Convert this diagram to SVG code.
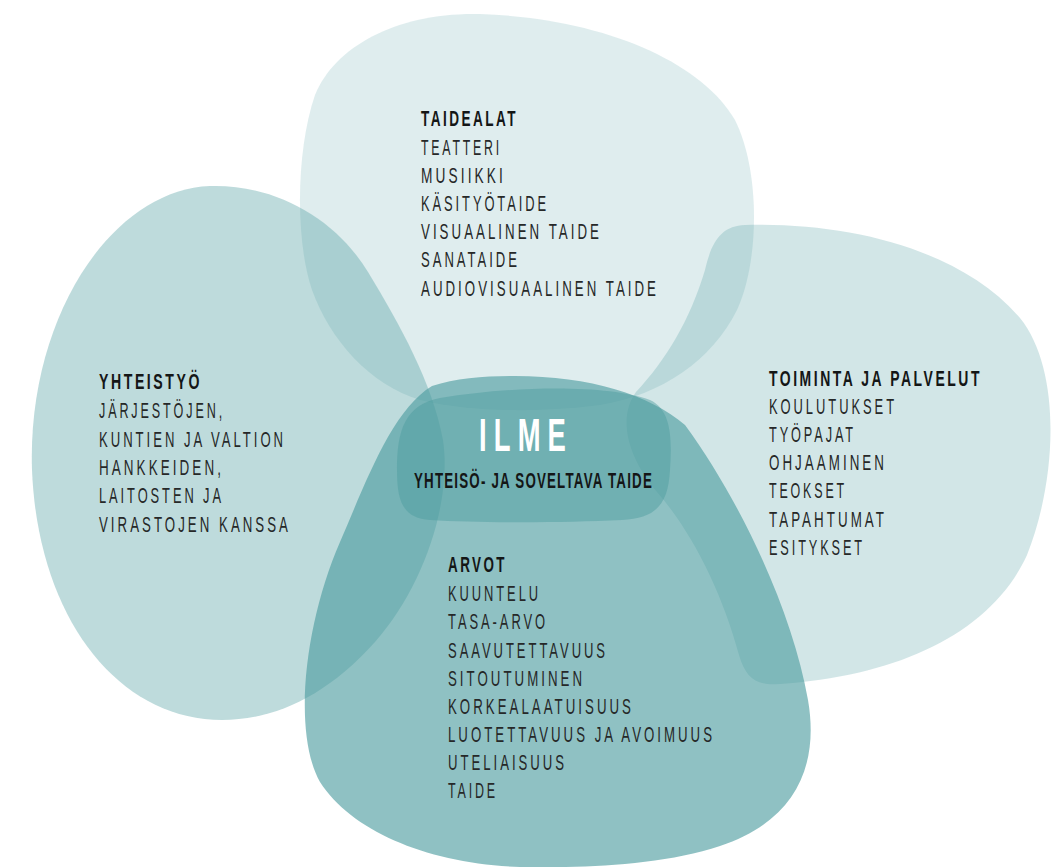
<svg xmlns="http://www.w3.org/2000/svg" width="1052" height="867" viewBox="0 0 1052 867">
<style>
.blob{fill:#4b9b9e}
text{font-family:"Liberation Sans",Arial,sans-serif;font-size:22px;fill:#262828;letter-spacing:5px}
.h{font-weight:700;fill:#141616;letter-spacing:4px}
.big{font-size:46px;font-weight:700;fill:#ffffff;letter-spacing:12px}
.sub{font-weight:700;fill:#141616;font-size:22px;letter-spacing:2px}
</style>
<rect width="1052" height="867" fill="#ffffff"/>
<g id="blob-top">
<path class="blob" fill-opacity="0.18" d="M 480,14 C 600,18 700,60 735,120 C 760,170 760,260 737,310 C 712,360 662,395 600,405 C 540,413 470,412 420,400 C 370,385 330,340 312,290 C 295,240 296,150 315,95 C 335,45 400,12 480,14 Z"/>
</g>
<g id="blob-left">
<path class="blob" fill-opacity="0.36" d="M 210,186 C 275,184 335,218 368,272 C 400,325 432,382 443,440 C 452,500 425,585 375,642 C 325,698 272,720 222,720 C 118,720 38,618 32,470 C 27,320 110,190 210,186 Z"/>
</g>
<g id="blob-right">
<path class="blob" fill-opacity="0.25" d="M 745,225 C 850,222 962,250 1020,318 C 1062,370 1057,480 1027,555 C 992,632 900,676 780,684 C 757,686 746,679 739,655 C 722,592 692,532 657,492 C 630,460 616,420 636,392 C 666,360 690,320 705,270 C 712,240 722,226 745,225 Z"/>
</g>
<g id="blob-bottom">
<path class="blob" fill-opacity="0.62" d="M 515,376 C 590,376 650,395 685,425 C 740,500 792,610 808,700 C 820,770 792,822 720,846 C 660,866 580,868 520,867 C 430,864 352,832 320,782 C 292,732 305,622 340,542 C 366,482 392,410 432,386 C 456,378 486,376 515,376 Z"/>
</g>
<g id="center">
<path class="blob" fill-opacity="0.45" d="M 440,398 C 520,385 610,385 650,400 C 672,410 672,440 670,470 C 668,505 656,518 622,520 C 560,523 480,523 430,520 C 402,518 397,500 397,470 C 397,430 405,405 440,398 Z"/>
<text class="big" x="479" y="451" textLength="94" lengthAdjust="spacingAndGlyphs">ILME</text>
<text class="sub" x="414" y="488" textLength="239" lengthAdjust="spacingAndGlyphs">YHTEISÖ- JA SOVELTAVA TAIDE</text>
</g>
<g id="taidealat">
<text class="h" x="421" y="126" textLength="97" lengthAdjust="spacingAndGlyphs">TAIDEALAT</text>
<text x="421" y="155" textLength="81" lengthAdjust="spacingAndGlyphs">TEATTERI</text>
<text x="421" y="183" textLength="85" lengthAdjust="spacingAndGlyphs">MUSIIKKI</text>
<text x="421" y="211" textLength="128" lengthAdjust="spacingAndGlyphs">KÄSITYÖTAIDE</text>
<text x="421" y="239" textLength="181" lengthAdjust="spacingAndGlyphs">VISUAALINEN TAIDE</text>
<text x="421" y="267" textLength="99" lengthAdjust="spacingAndGlyphs">SANATAIDE</text>
<text x="421" y="296" textLength="238" lengthAdjust="spacingAndGlyphs">AUDIOVISUAALINEN TAIDE</text>
</g>
<g id="yhteistyo">
<text class="h" x="99" y="389" textLength="103" lengthAdjust="spacingAndGlyphs">YHTEISTYÖ</text>
<text x="99" y="418" textLength="126" lengthAdjust="spacingAndGlyphs">JÄRJESTÖJEN,</text>
<text x="99" y="447" textLength="187" lengthAdjust="spacingAndGlyphs">KUNTIEN JA VALTION</text>
<text x="99" y="475" textLength="125" lengthAdjust="spacingAndGlyphs">HANKKEIDEN,</text>
<text x="99" y="503" textLength="125" lengthAdjust="spacingAndGlyphs">LAITOSTEN JA</text>
<text x="99" y="532" textLength="192" lengthAdjust="spacingAndGlyphs">VIRASTOJEN KANSSA</text>
</g>
<g id="toiminta">
<text class="h" x="769" y="386" textLength="213" lengthAdjust="spacingAndGlyphs">TOIMINTA JA PALVELUT</text>
<text x="769" y="414" textLength="128" lengthAdjust="spacingAndGlyphs">KOULUTUKSET</text>
<text x="769" y="442" textLength="87" lengthAdjust="spacingAndGlyphs">TYÖPAJAT</text>
<text x="769" y="470" textLength="118" lengthAdjust="spacingAndGlyphs">OHJAAMINEN</text>
<text x="769" y="498" textLength="78" lengthAdjust="spacingAndGlyphs">TEOKSET</text>
<text x="769" y="527" textLength="118" lengthAdjust="spacingAndGlyphs">TAPAHTUMAT</text>
<text x="769" y="555" textLength="96" lengthAdjust="spacingAndGlyphs">ESITYKSET</text>
</g>
<g id="arvot">
<text class="h" x="448" y="572" textLength="59" lengthAdjust="spacingAndGlyphs">ARVOT</text>
<text x="448" y="601" textLength="93" lengthAdjust="spacingAndGlyphs">KUUNTELU</text>
<text x="448" y="629" textLength="100" lengthAdjust="spacingAndGlyphs">TASA-ARVO</text>
<text x="448" y="658" textLength="160" lengthAdjust="spacingAndGlyphs">SAAVUTETTAVUUS</text>
<text x="448" y="686" textLength="137" lengthAdjust="spacingAndGlyphs">SITOUTUMINEN</text>
<text x="448" y="714" textLength="186" lengthAdjust="spacingAndGlyphs">KORKEALAATUISUUS</text>
<text x="448" y="742" textLength="267" lengthAdjust="spacingAndGlyphs">LUOTETTAVUUS JA AVOIMUUS</text>
<text x="448" y="770" textLength="119" lengthAdjust="spacingAndGlyphs">UTELIAISUUS</text>
<text x="448" y="798" textLength="50" lengthAdjust="spacingAndGlyphs">TAIDE</text>
</g>
<g id="connectors"/>
</svg>
